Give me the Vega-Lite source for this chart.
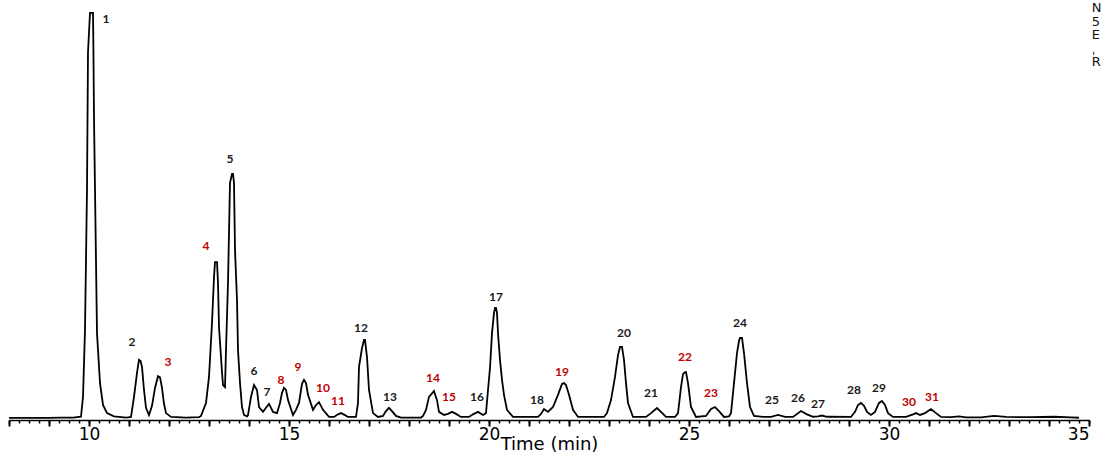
{
  "$schema": "https://vega.github.io/schema/vega-lite/v6.json",
  "width": 1080,
  "height": 408,
  "padding": {"left": 5, "top": 2, "right": 5, "bottom": 0},
  "config": {"view": {"stroke": null}},
  "title": {"text": ["N", "5", "E", "ˌ", "R"], "orient": "right", "angle": 0, "anchor": "start", "align": "left", "baseline": "top", "offset": 2, "dx": -10, "dy": -7, "fontSize": 13, "lineHeight": 13.5, "font": "DejaVu Sans", "fontWeight": "normal", "color": "#111111"},
  "datasets": {
    "trace": [
      {"t": 8.0, "v": 0}, {"t": 9.0, "v": 0}, {"t": 9.3, "v": 0.1}, {"t": 9.6, "v": 0.1}, {"t": 9.8, "v": 0.3},
      {"t": 9.85, "v": 5.2}, {"t": 9.9, "v": 21.7}, {"t": 9.95, "v": 56.2}, {"t": 9.975, "v": 90.1}, {"t": 10.025, "v": 99.8},
      {"t": 10.1, "v": 99.8}, {"t": 10.11, "v": 91.4}, {"t": 10.125, "v": 74.1}, {"t": 10.2, "v": 20.9}, {"t": 10.275, "v": 8.6},
      {"t": 10.35, "v": 3.2}, {"t": 10.45, "v": 1.2}, {"t": 10.625, "v": 0.4}, {"t": 10.93, "v": 0.1},
      {"t": 11.05, "v": 0.25}, {"t": 11.125, "v": 5.2}, {"t": 11.2, "v": 11.1}, {"t": 11.25, "v": 14.3}, {"t": 11.29, "v": 14.0},
      {"t": 11.325, "v": 12.6}, {"t": 11.375, "v": 6.9}, {"t": 11.425, "v": 2.5}, {"t": 11.5, "v": 0.7},
      {"t": 11.575, "v": 3.0}, {"t": 11.65, "v": 7.4}, {"t": 11.725, "v": 10.3}, {"t": 11.775, "v": 10.0}, {"t": 11.825, "v": 7.4},
      {"t": 11.875, "v": 3.5}, {"t": 11.925, "v": 1.2}, {"t": 12.05, "v": 0.25}, {"t": 12.425, "v": 0.1},
      {"t": 12.75, "v": 0.2}, {"t": 12.8, "v": 0.5}, {"t": 12.925, "v": 3.7}, {"t": 13.0, "v": 10.1}, {"t": 13.075, "v": 23.4},
      {"t": 13.125, "v": 34.7}, {"t": 13.15, "v": 38.4}, {"t": 13.2, "v": 38.4}, {"t": 13.225, "v": 33.3}, {"t": 13.25, "v": 22.4},
      {"t": 13.325, "v": 11.3}, {"t": 13.35, "v": 8.1}, {"t": 13.4, "v": 7.6},
      {"t": 13.425, "v": 16.75}, {"t": 13.475, "v": 33.3}, {"t": 13.5, "v": 45.6}, {"t": 13.525, "v": 57.9}, {"t": 13.575, "v": 60.1},
      {"t": 13.6, "v": 60.1}, {"t": 13.625, "v": 57.9}, {"t": 13.65, "v": 41.4}, {"t": 13.7, "v": 29.1}, {"t": 13.725, "v": 16.75},
      {"t": 13.775, "v": 8.6}, {"t": 13.825, "v": 2.7}, {"t": 13.875, "v": 0.74}, {"t": 13.95, "v": 0.4},
      {"t": 13.975, "v": 0.7}, {"t": 14.05, "v": 5.2}, {"t": 14.125, "v": 8.1}, {"t": 14.2, "v": 6.9}, {"t": 14.25, "v": 2.7}, {"t": 14.35, "v": 1.5},
      {"t": 14.425, "v": 2.5}, {"t": 14.5, "v": 3.45}, {"t": 14.6, "v": 1.5}, {"t": 14.7, "v": 1.2},
      {"t": 14.775, "v": 3.7}, {"t": 14.825, "v": 6.2}, {"t": 14.875, "v": 7.4}, {"t": 14.925, "v": 6.9}, {"t": 14.975, "v": 4.4}, {"t": 15.1, "v": 0.74},
      {"t": 15.175, "v": 2.0}, {"t": 15.25, "v": 3.7}, {"t": 15.325, "v": 8.4}, {"t": 15.375, "v": 9.4}, {"t": 15.425, "v": 8.6}, {"t": 15.475, "v": 5.7}, {"t": 15.6, "v": 2.0},
      {"t": 15.675, "v": 3.2}, {"t": 15.75, "v": 3.9}, {"t": 15.85, "v": 2.0}, {"t": 16.0, "v": 0.25},
      {"t": 16.125, "v": 0.25}, {"t": 16.225, "v": 0.9}, {"t": 16.3, "v": 1.2}, {"t": 16.4, "v": 0.7}, {"t": 16.475, "v": 0.25}, {"t": 16.675, "v": 0.25},
      {"t": 16.725, "v": 3.7}, {"t": 16.75, "v": 12.6}, {"t": 16.825, "v": 17.2}, {"t": 16.875, "v": 19.2}, {"t": 16.9, "v": 19.2},
      {"t": 16.95, "v": 15.0}, {"t": 17.0, "v": 6.9}, {"t": 17.1, "v": 1.2}, {"t": 17.225, "v": 0.25},
      {"t": 17.35, "v": 0.5}, {"t": 17.425, "v": 1.7}, {"t": 17.5, "v": 2.5}, {"t": 17.575, "v": 1.7}, {"t": 17.675, "v": 0.5}, {"t": 17.8, "v": 0.1}, {"t": 18.3, "v": 0.1},
      {"t": 18.35, "v": 0.5}, {"t": 18.425, "v": 2.0}, {"t": 18.5, "v": 5.2}, {"t": 18.625, "v": 6.65}, {"t": 18.7, "v": 4.4}, {"t": 18.75, "v": 1.5}, {"t": 18.875, "v": 0.74},
      {"t": 18.975, "v": 1.0}, {"t": 19.075, "v": 1.5}, {"t": 19.175, "v": 1.0}, {"t": 19.3, "v": 0.25}, {"t": 19.5, "v": 0.25},
      {"t": 19.6, "v": 0.9}, {"t": 19.725, "v": 1.5}, {"t": 19.85, "v": 0.74},
      {"t": 19.925, "v": 1.2}, {"t": 19.975, "v": 6.9}, {"t": 20.025, "v": 12.3}, {"t": 20.075, "v": 20.9}, {"t": 20.125, "v": 25.9},
      {"t": 20.15, "v": 27.1}, {"t": 20.175, "v": 27.1}, {"t": 20.2, "v": 25.9}, {"t": 20.225, "v": 20.9}, {"t": 20.275, "v": 14.3},
      {"t": 20.325, "v": 9.4}, {"t": 20.375, "v": 5.7}, {"t": 20.45, "v": 2.0}, {"t": 20.6, "v": 0.25}, {"t": 21.225, "v": 0.25},
      {"t": 21.3, "v": 1.0}, {"t": 21.375, "v": 2.2}, {"t": 21.475, "v": 1.5},
      {"t": 21.6, "v": 2.7}, {"t": 21.725, "v": 5.7}, {"t": 21.825, "v": 8.4}, {"t": 21.875, "v": 8.6}, {"t": 21.925, "v": 8.1},
      {"t": 22.0, "v": 5.7}, {"t": 22.1, "v": 2.0}, {"t": 22.225, "v": 0.25}, {"t": 22.875, "v": 0.25},
      {"t": 22.95, "v": 1.2}, {"t": 23.05, "v": 4.4}, {"t": 23.15, "v": 10.1}, {"t": 23.225, "v": 15.5}, {"t": 23.275, "v": 17.5},
      {"t": 23.325, "v": 17.5}, {"t": 23.375, "v": 14.3}, {"t": 23.425, "v": 8.6}, {"t": 23.475, "v": 3.7}, {"t": 23.6, "v": 0.25},
      {"t": 23.925, "v": 0.25}, {"t": 24.05, "v": 1.2}, {"t": 24.2, "v": 2.46}, {"t": 24.3, "v": 1.5}, {"t": 24.425, "v": 0.25},
      {"t": 24.65, "v": 0.25}, {"t": 24.725, "v": 1.2}, {"t": 24.8, "v": 7.6}, {"t": 24.85, "v": 10.8}, {"t": 24.9, "v": 11.3},
      {"t": 24.925, "v": 11.3}, {"t": 24.975, "v": 8.6}, {"t": 25.05, "v": 2.7}, {"t": 25.175, "v": 0.25},
      {"t": 25.425, "v": 0.5}, {"t": 25.55, "v": 2.2}, {"t": 25.65, "v": 2.7}, {"t": 25.75, "v": 1.7}, {"t": 25.875, "v": 0.25},
      {"t": 26.0, "v": 0.4}, {"t": 26.05, "v": 1.2}, {"t": 26.125, "v": 8.6}, {"t": 26.2, "v": 16.0}, {"t": 26.25, "v": 19.0},
      {"t": 26.275, "v": 19.7}, {"t": 26.325, "v": 19.7}, {"t": 26.375, "v": 16.0}, {"t": 26.45, "v": 8.6}, {"t": 26.525, "v": 2.7},
      {"t": 26.625, "v": 0.5}, {"t": 26.85, "v": 0.25},
      {"t": 27.05, "v": 0.25}, {"t": 27.225, "v": 0.74}, {"t": 27.4, "v": 0.25},
      {"t": 27.6, "v": 0.25}, {"t": 27.8, "v": 1.7}, {"t": 27.95, "v": 0.9}, {"t": 28.1, "v": 0.3},
      {"t": 28.225, "v": 0.4}, {"t": 28.325, "v": 0.6}, {"t": 28.45, "v": 0.3},
      {"t": 29.05, "v": 0.25}, {"t": 29.15, "v": 1.5}, {"t": 29.225, "v": 3.2}, {"t": 29.3, "v": 3.7}, {"t": 29.375, "v": 3.0},
      {"t": 29.45, "v": 1.5}, {"t": 29.55, "v": 0.74},
      {"t": 29.65, "v": 1.5}, {"t": 29.75, "v": 3.7}, {"t": 29.825, "v": 4.2}, {"t": 29.9, "v": 3.2}, {"t": 29.975, "v": 1.2}, {"t": 30.1, "v": 0.25},
      {"t": 30.425, "v": 0.25}, {"t": 30.6, "v": 0.9}, {"t": 30.675, "v": 1.2}, {"t": 30.775, "v": 0.74},
      {"t": 30.9, "v": 1.2}, {"t": 31.05, "v": 2.2}, {"t": 31.175, "v": 1.2}, {"t": 31.3, "v": 0.25},
      {"t": 31.55, "v": 0.2}, {"t": 31.75, "v": 0.4}, {"t": 31.925, "v": 0.15}, {"t": 32.3, "v": 0.15}, {"t": 32.625, "v": 0.5},
      {"t": 32.925, "v": 0.25}, {"t": 33.55, "v": 0.2}, {"t": 34.125, "v": 0.3}, {"t": 34.55, "v": 0.15}, {"t": 34.75, "v": 0.05}
    ],
    "peaks": [
      {"n": "1", "t": 10.425, "v": 98.3, "mark": "no"},
      {"n": "2", "t": 11.075, "v": 18.7, "mark": "no"},
      {"n": "3", "t": 11.975, "v": 13.8, "mark": "yes"},
      {"n": "4", "t": 12.925, "v": 42.4, "mark": "yes"},
      {"n": "5", "t": 13.525, "v": 63.8, "mark": "no"},
      {"n": "6", "t": 14.125, "v": 11.6, "mark": "no"},
      {"n": "7", "t": 14.45, "v": 6.4, "mark": "no"},
      {"n": "8", "t": 14.8, "v": 9.4, "mark": "yes"},
      {"n": "9", "t": 15.225, "v": 12.6, "mark": "yes"},
      {"n": "10", "t": 15.85, "v": 7.4, "mark": "yes"},
      {"n": "11", "t": 16.225, "v": 4.2, "mark": "yes"},
      {"n": "12", "t": 16.8, "v": 22.2, "mark": "no"},
      {"n": "13", "t": 17.525, "v": 5.2, "mark": "no"},
      {"n": "14", "t": 18.6, "v": 9.9, "mark": "yes"},
      {"n": "15", "t": 19.0, "v": 5.2, "mark": "yes"},
      {"n": "16", "t": 19.7, "v": 5.2, "mark": "no"},
      {"n": "17", "t": 20.175, "v": 29.8, "mark": "no"},
      {"n": "18", "t": 21.2, "v": 4.4, "mark": "no"},
      {"n": "19", "t": 21.825, "v": 11.3, "mark": "yes"},
      {"n": "20", "t": 23.375, "v": 20.9, "mark": "no"},
      {"n": "21", "t": 24.05, "v": 6.2, "mark": "no"},
      {"n": "22", "t": 24.9, "v": 15.0, "mark": "yes"},
      {"n": "23", "t": 25.55, "v": 6.2, "mark": "yes"},
      {"n": "24", "t": 26.275, "v": 23.4, "mark": "no"},
      {"n": "25", "t": 27.075, "v": 4.4, "mark": "no"},
      {"n": "26", "t": 27.725, "v": 4.9, "mark": "no"},
      {"n": "27", "t": 28.225, "v": 3.4, "mark": "no"},
      {"n": "28", "t": 29.125, "v": 6.9, "mark": "no"},
      {"n": "29", "t": 29.75, "v": 7.4, "mark": "no"},
      {"n": "30", "t": 30.5, "v": 3.9, "mark": "yes"},
      {"n": "31", "t": 31.075, "v": 5.2, "mark": "yes"}
    ]
  },
  "resolve": {"axis": {"x": "independent"}},
  "layer": [
    {
      "data": {"name": "trace"},
      "mark": {"type": "line", "color": "#000000", "strokeWidth": 1.8},
      "encoding": {
        "x": {
          "field": "t", "type": "quantitative",
          "scale": {"domain": [8, 35], "nice": false, "zero": false},
          "axis": {
            "orient": "bottom",
            "title": "Time (min)",
            "values": [8,9,10,11,12,13,14,15,16,17,18,19,20,21,22,23,24,25,26,27,28,29,30,31,32,33,34,35],
            "labelExpr": "datum.value % 5 === 0 ? datum.label : ''",
            "grid": false,
            "domainColor": "#000000",
            "domainWidth": 1.5,
            "tickColor": "#000000",
            "tickWidth": 2,
            "tickSize": 6,
            "labelFont": "DejaVu Sans",
            "labelFontSize": 17,
            "labelColor": "#000000",
            "labelPadding": 0,
            "titleFont": "DejaVu Sans",
            "titleFontSize": 18,
            "titleFontWeight": "normal",
            "titleColor": "#000000",
            "titlePadding": -7
          }
        },
        "y": {
          "field": "v", "type": "quantitative",
          "scale": {"domain": [-0.5, 100], "nice": false, "zero": false},
          "axis": null
        }
      }
    },
    {
      "data": {"name": "peaks"},
      "mark": {"type": "text", "font": "Lato", "fontWeight": "bold", "fontSize": 12, "align": "center", "baseline": "middle"},
      "encoding": {
        "x": {
          "field": "t", "type": "quantitative",
          "axis": {
            "orient": "bottom",
            "title": null,
            "values": [8,8.25,8.5,8.75,9,9.25,9.5,9.75,10,10.25,10.5,10.75,11,11.25,11.5,11.75,12,12.25,12.5,12.75,13,13.25,13.5,13.75,14,14.25,14.5,14.75,15,15.25,15.5,15.75,16,16.25,16.5,16.75,17,17.25,17.5,17.75,18,18.25,18.5,18.75,19,19.25,19.5,19.75,20,20.25,20.5,20.75,21,21.25,21.5,21.75,22,22.25,22.5,22.75,23,23.25,23.5,23.75,24,24.25,24.5,24.75,25,25.25,25.5,25.75,26,26.25,26.5,26.75,27,27.25,27.5,27.75,28,28.25,28.5,28.75,29,29.25,29.5,29.75,30,30.25,30.5,30.75,31,31.25,31.5,31.75,32,32.25,32.5,32.75,33,33.25,33.5,33.75,34,34.25,34.5,34.75,35],
            "labels": false,
            "domain": false,
            "grid": false,
            "tickColor": "#000000",
            "tickWidth": 1.5,
            "tickSize": 3
          }
        },
        "y": {"field": "v", "type": "quantitative"},
        "text": {"field": "n"},
        "color": {"field": "mark", "type": "nominal", "scale": {"domain": ["no", "yes"], "range": ["#1a1a1a", "#c00000"]}, "legend": null}
      }
    }
  ]
}
